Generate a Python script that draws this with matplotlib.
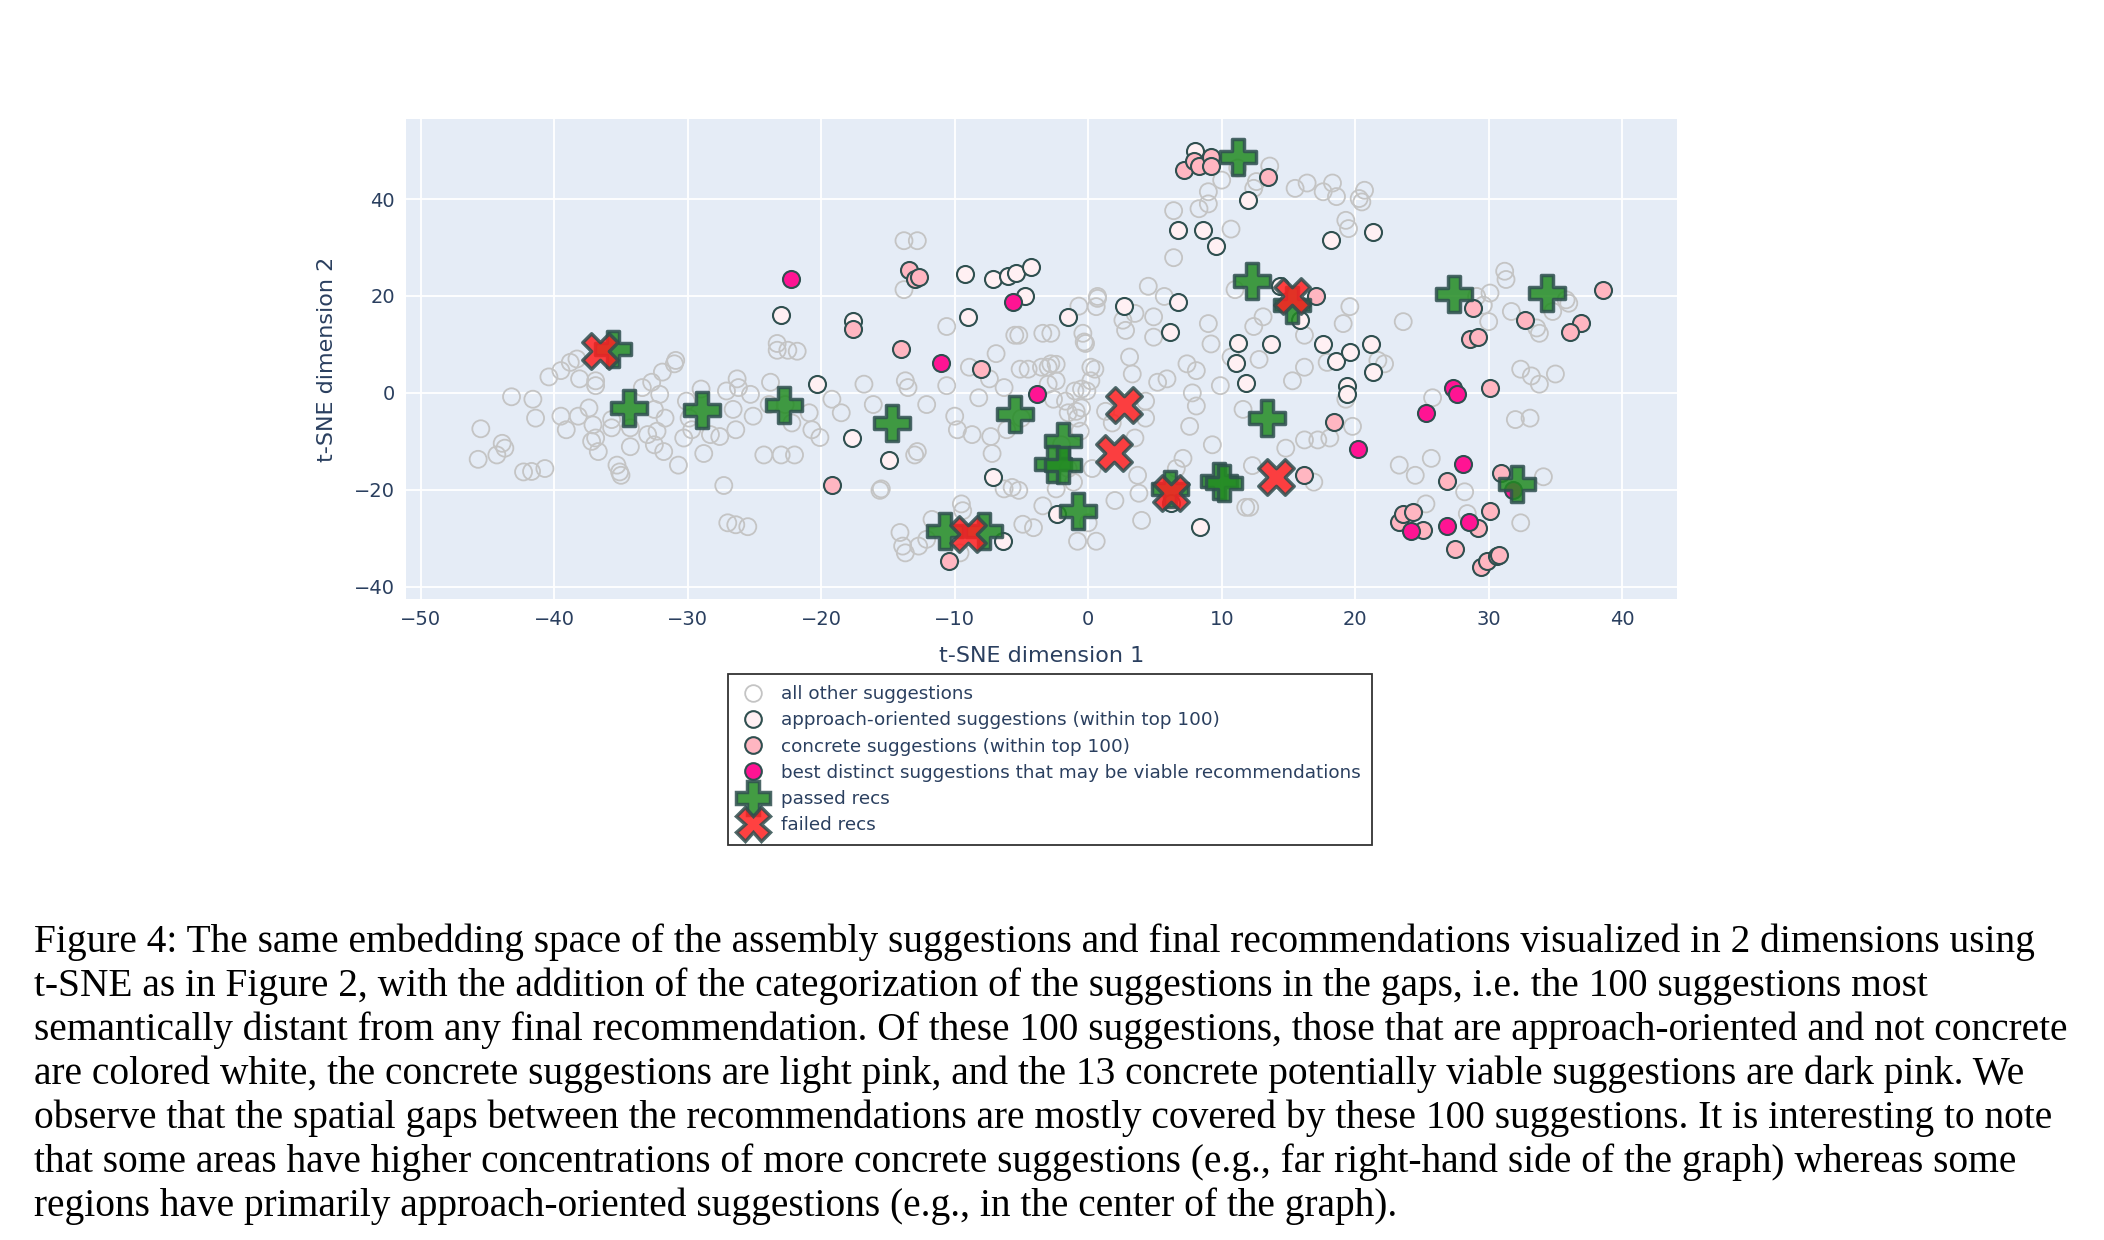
import numpy as np
import matplotlib.pyplot as plt
from matplotlib.lines import Line2D

# all other suggestions (x, y)
other_x = [-45.5, -45.7, -44.3, -43.9, -43.7, -43.2, -42.3, -41.6, -41.4, -40.7, -41.7, -40.4, -39.5, -39.5, -39.1,
           -38.8, -38.3, -38.1, -38.2, -37.4, -36.9, -36.9, -37.1, -37.2, -36.9, -36.7, -35.7, -35.7, -35.3, -35.0,
           -35.1, -34.3, -34.3, -33.4, -32.7, -32.5, -32.3, -31.9, -32.1, -31.8, -31.7, -33.0, -32.5, -31.0, -30.9,
           -30.7, -30.3, -30.1, -29.9, -29.7, -29.0, -28.8, -28.3, -27.6, -27.3, -27.1, -26.6, -26.3, -26.2, -26.4,
           -25.3, -25.1, -27.0, -26.4, -25.5, -24.3, -23.8, -23.9, -23.3, -23.3, -23.0, -22.7, -22.5, -22.0, -22.2,
           -21.8, -20.9, -20.7, -20.1, -19.2, -18.5, -16.8, -16.1, -15.6, -15.5, -13.8, -12.8, -13.8, -13.7, -13.5,
           -14.1, -13.9, -13.7, -13.0, -12.8, -12.7, -12.1, -12.1, -11.7, -10.6, -10.6, -10.0, -9.8, -9.5, -9.4,
           -9.6, -8.9, -8.7, -8.2, -7.4, -7.3, -7.2, -6.9, -6.3, -6.3, -6.1, -5.7, -5.5, -5.2, -5.2, -5.0, -4.9,
           -4.5, -4.1, -3.4, -3.0, -2.8, -2.6, -2.4, -2.4, -2.4, -2.0, -1.5, -1.1, -0.9, -0.5, -0.8, -0.7, -0.6,
           -0.4, -0.2, 0.0, 0.3, 0.5, 0.6, 0.7,
           -5.1, -3.5, -2.8, -3.4, -3.0, -1.7, -1.5, -1.0, -0.8, -0.5, -0.3, -0.1, 0.2, 0.2, 0.7, 0.6, 1.3, 1.8,
           2.0, 2.6, 2.8, 3.1, 3.3, 3.5, 3.5, 3.7, 3.8, 4.0, 4.3, 4.3, 4.5, 4.9, 4.9, 5.2, 5.9, 5.7, 6.4, 6.4, 6.6,
           7.1, 7.4, 7.8, 8.1, 8.1, 7.6, 8.3, 9.0, 9.0, 9.0, 9.2, 9.3, 9.9, 10.0, 10.7, 10.7, 11.0, 11.2, 11.6,
           11.8, 12.1, 12.4, 12.3, 12.6, 12.8, 12.4, 13.1, 13.6, 14.8, 15.3, 15.5, 16.2, 16.2, 16.2, 16.4, 16.9,
           17.2, 17.6, 17.9, 18.1, 18.3, 18.6, 19.1, 19.3, 19.3, 19.5, 19.6, 19.8, 20.3, 20.5, 20.7, 21.7, 22.2,
           23.3, 23.6, 24.5, 25.3, 25.7, 25.8, 28.2, 28.4, 29.1, 29.6, 30.0, 30.1, 31.2, 31.3, 31.7, 32.0, 32.4,
           32.4, 33.1, 33.2, 33.6, 33.8, 33.8, 34.1, 34.8, 35.0, 35.8, 36.0]
other_y = [-7.4, -13.7, -12.8, -10.4, -11.4, -0.8, -16.3, -1.3, -5.2, -15.6, -16.2, 3.3, 4.6, -4.8, -7.6,
           6.3, 7.0, 2.9, -4.8, -3.1, 2.5, 1.5, -6.6, -10.0, -9.3, -12.1, -7.2, -5.5, -14.9, -17.0,
           -16.3, -11.1, -7.2, 1.1, 2.2, -3.4, -7.9, 4.3, -0.3, -12.1, -5.2, -8.6, -10.7, 6.0, 6.7,
           -14.9, -9.3, -1.7, -5.2, -7.6, 0.8, -12.5, -8.6, -9.0, -19.1, 0.4, -3.4, 2.9, 1.1, -7.6,
           -0.3, -4.8, -26.8, -27.2, -27.6, -12.8, 2.2, -2.4, 10.2, 8.8, -12.8, -2.4, 8.8, -12.8, -6.2,
           8.6, -4.1, -7.6, -9.2, -1.3, -4.1, 1.8, -2.4, -20.1, -19.8, 31.4, 31.4, 21.3, 2.5, 1.1,
           -28.8, -31.6, -33.0, -12.8, -12.1, -31.6, -30.2, -2.4, -26.1, 13.7, 1.5, -4.8, -7.6, -22.9, -24.3,
           -33.0, 5.3, -8.6, -1.0, 2.9, -9.0, -12.5, 8.1, 1.1, -19.8, -7.6, -19.5, 11.9, 11.9, -20.1, -5.2, -27.1,
           4.9, -27.8, -23.3, 5.3, 12.3, -1.3, 2.5, 5.9, -19.8, -10.7, -15.6, -18.4, -3.8, 0.8, -30.6, 17.9, -7.9,
           12.3, 10.2, -26.8, -15.6, 4.9, -30.6, 19.5,
           4.9, 5.3, 6.0, 12.3, 1.8, -1.7, -4.1, 0.4, -5.2, -3.1, 10.5, 0.4, 5.3, 2.5, 19.9, 17.8, -3.8, -6.2,
           -22.2, 15.0, 12.9, 7.4, 3.9, 16.4, -9.3, -17.0, -20.7, -26.3, -1.7, -5.2, 22.0, 11.5, 15.7, 2.2, 2.9, 19.9, 27.9, 37.6, -15.6,
           -13.5, 6.0, 0.0, 4.6, -2.7, -6.9, 38.0, 39.0, 41.5, 14.3, 10.1, -10.7, 1.5, 43.9, 33.8, 7.4, 21.3, 46.4, -3.4,
           -23.6, -23.6, 42.2, -15.0, 43.6, 6.9, 13.7, 15.7, 46.8, -11.4, 2.5, 42.2, 11.9, 5.3, -9.7, 43.3, -18.4,
           -9.7, 41.5, 6.3, -9.3, 43.3, 40.5, 14.3, 35.6, -1.3, 33.9, 17.8, -6.9, 40.1, 39.4, 41.8, 6.7, 6.0,
           -14.9, 14.7, -17.0, -22.9, -13.5, -1.0, -20.4, -24.9, 19.9, 18.1, 14.7, 20.6, 25.1, 23.4, 16.8, -5.5, 4.9,
           -26.8, -5.2, 3.5, 13.4, 12.3, 1.8, -17.3, 16.8, 3.9, 19.2, 18.5]

# approach-oriented suggestions (within top 100)
appr_x = [-23.0, -20.3, -17.6, -17.7, -14.9, -9.2, -9.0, -7.1, -6.0, -5.4, -4.3, -4.7, -7.1, -6.4, -2.3,
          -1.5, 2.7, 6.1, 6.7, 6.7, 8.0, 8.6, 9.6, 12.0, 18.2, 21.3, 14.4, 15.9, 11.2, 13.7, 11.1, 11.8,
          17.6, 18.6, 19.6, 21.2, 21.3, 19.4, 19.4, 8.4, 6.2]
appr_y = [16.1, 1.8, 14.9, -9.2, -13.9, 24.5, 15.7, 23.4, 24.1, 24.7, 26.0, 19.9, -17.4, -30.6, -25.0,
          15.7, 18.0, 12.6, 18.7, 33.7, 50.0, 33.6, 30.4, 39.7, 31.5, 33.1, 22.1, 15.1, 10.3, 10.0, 6.1, 2.0,
          10.1, 6.5, 8.5, 10.1, 4.3, 1.5, -0.3, -27.7, -22.8]

# concrete suggestions (within top 100)
conc_x = [7.2, 7.9, 8.3, 9.2, 9.2, -13.4, -13.0, -12.7, -17.6, -14.0, -8.0, -19.2, -10.4, 13.5, 17.1,
          18.4, 16.2, 28.8, 32.7, 28.6, 29.2, 30.1, 36.9, 36.1, 38.6, 26.9, 30.9, 30.1, 23.3, 23.6, 24.3,
          25.1, 29.2, 27.5, 29.4, 29.9, 30.6, 30.8]
conc_y = [45.9, 47.8, 46.9, 48.7, 46.9, 25.3, 23.4, 24.0, 13.1, 9.0, 4.9, -19.1, -34.6, 44.5, 19.9,
          -6.0, -16.9, 17.6, 15.1, 11.2, 11.5, 1.1, 14.4, 12.5, 21.2, -18.2, -16.6, -24.3, -26.7, -24.9, -24.6,
          -28.2, -27.9, -32.2, -36.0, -34.7, -33.6, -33.5]

# best distinct suggestions
best_x = [-22.3, -11.0, -5.6, -3.8, 27.3, 27.6, 25.3, 20.2, 28.1, 24.2, 26.9, 28.5, 31.8]
best_y = [23.5, 6.2, 18.7, -0.3, 1.1, -0.3, -4.2, -11.6, -14.7, -28.5, -27.4, -26.7, -20.1]

# final recommendations
passed_x = [-35.6, -34.4, -28.9, -22.8, -14.7, -5.5, -1.9, -2.6, -1.9, -0.8, -10.7, -7.8, 6.1,
            11.2, 12.3, 15.3, 13.4, 27.4, 34.4, 9.8, 10.2, 32.1]
passed_y = [9.0, -3.2, -3.6, -2.4, -6.3, -4.3, -9.9, -14.6, -14.9, -24.3, -28.5, -28.5, -19.8,
            48.7, 23.1, 18.2, -5.1, 20.4, 20.7, -18.2, -18.5, -18.7]
failed_x = [-36.6, -9.0, 2.7, 1.9, 6.2, 15.3, 14.1]
failed_y = [8.6, -29.2, -2.5, -12.3, -20.7, 19.9, -17.3]

caption = [
    "Figure 4: The same embedding space of the assembly suggestions and final recommendations visualized in 2 dimensions using",
    "t-SNE as in Figure 2, with the addition of the categorization of the suggestions in the gaps, i.e. the 100 suggestions most",
    "semantically distant from any final recommendation. Of these 100 suggestions, those that are approach-oriented and not concrete",
    "are colored white, the concrete suggestions are light pink, and the 13 concrete potentially viable suggestions are dark pink. We",
    "observe that the spatial gaps between the recommendations are mostly covered by these 100 suggestions. It is interesting to note",
    "that some areas have higher concentrations of more concrete suggestions (e.g., far right-hand side of the graph) whereas some",
    "regions have primarily approach-oriented suggestions (e.g., in the center of the graph).",
]

txt = "#2a3f5f"
edge = "#2f4f4f"
fig = plt.figure(figsize=(21.04, 12.40), dpi=100)
ax = fig.add_axes([0.193, 0.517, 0.604, 0.387])
ax.set_facecolor("#E5ECF6")
for s in ax.spines.values():
    s.set_visible(False)
ax.grid(True, color="white", linewidth=1.3)
ax.set_axisbelow(True)

ax.scatter(other_x, other_y, s=150, facecolors="none", edgecolors="#c4c4c4", linewidths=1.3, zorder=2)
ax.scatter(appr_x, appr_y, s=150, facecolors="#fff0f3", edgecolors=edge, linewidths=1.5, zorder=3)
ax.scatter(conc_x, conc_y, s=150, facecolors="#ffb6c1", edgecolors=edge, linewidths=1.5, zorder=3)
ax.scatter(best_x, best_y, s=150, facecolors="#ff1493", edgecolors=edge, linewidths=1.5, zorder=4)
ax.scatter(passed_x, passed_y, s=650, marker="P", facecolors="#228b22", edgecolors=edge,
           linewidths=2.5, alpha=0.85, zorder=5)
ax.scatter(failed_x, failed_y, s=650, marker="X", facecolors="#ff2020", edgecolors=edge,
           linewidths=2.5, alpha=0.85, zorder=6)

ax.set_xlim(-51.1, 44.1)
ax.set_ylim(-42.5, 56.5)
ax.set_xticks(np.arange(-50, 41, 10))
ax.set_yticks([-40, -20, 0, 20, 40])
ax.tick_params(length=0, labelsize=14, colors=txt, pad=8)
ax.set_xlabel("t-SNE dimension 1", fontsize=16, color=txt, labelpad=12)
ax.set_ylabel("t-SNE dimension 2", fontsize=16, color=txt, labelpad=12)

handles = [
    Line2D([], [], ls="", marker="o", ms=12, mfc="none", mec="#c4c4c4", mew=1.3),
    Line2D([], [], ls="", marker="o", ms=12, mfc="#fff0f3", mec=edge, mew=1.5),
    Line2D([], [], ls="", marker="o", ms=12, mfc="#ffb6c1", mec=edge, mew=1.5),
    Line2D([], [], ls="", marker="o", ms=12, mfc="#ff1493", mec=edge, mew=1.5),
    Line2D([], [], ls="", marker="P", ms=24, mfc="#228b22", mec=edge, mew=2.5, alpha=0.85),
    Line2D([], [], ls="", marker="X", ms=24, mfc="#ff2020", mec=edge, mew=2.5, alpha=0.85),
]
labels = ["all other suggestions", "approach-oriented suggestions (within top 100)",
          "concrete suggestions (within top 100)",
          "best distinct suggestions that may be viable recommendations", "passed recs", "failed recs"]
leg = fig.legend(handles, labels, loc="upper left", bbox_to_anchor=(728 / 2104, 1 - 674 / 1240),
                 borderaxespad=0, fontsize=13.2, frameon=True, fancybox=False, edgecolor="black",
                 labelspacing=0.45, handletextpad=0.8, borderpad=0.6, handlelength=1.5)
leg.get_frame().set_linewidth(1.3)
for t in leg.get_texts():
    t.set_color(txt)

for i, line in enumerate(caption):
    fig.text(34 / 2104, 1 - (942 + i * 44) / 1240, line, fontsize=28.4,
             family="Liberation Serif", va="center", ha="left")

fig.savefig("out.png")
